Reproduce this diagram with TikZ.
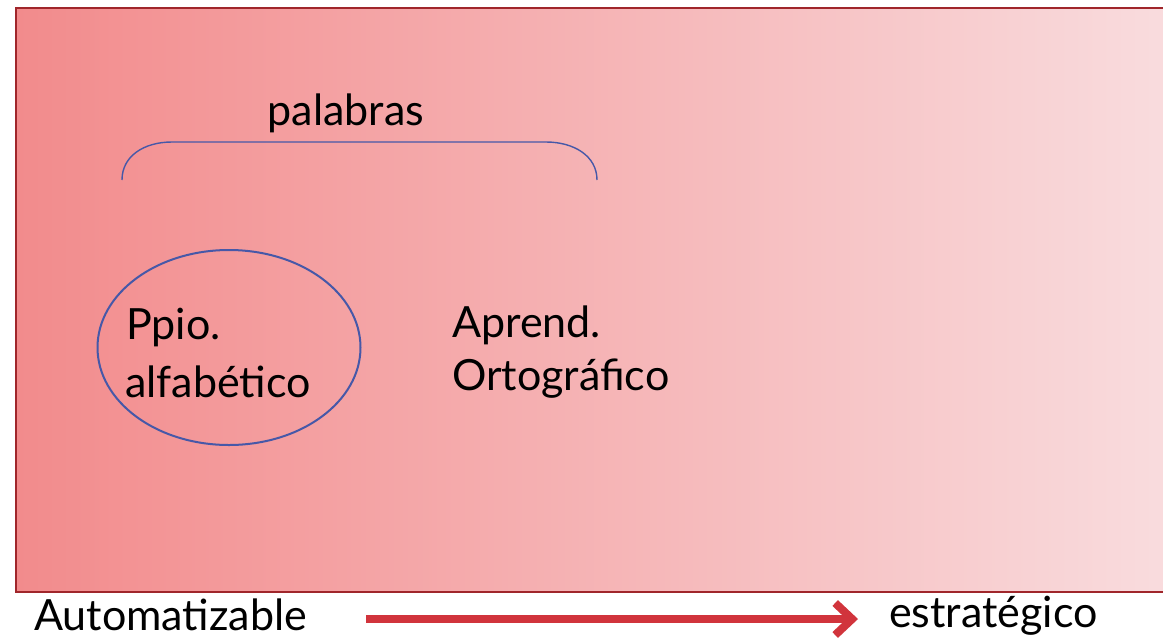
\documentclass[tikz,border=0pt]{standalone}
\usepackage{fontspec}
\setmainfont{Lato}
\usetikzlibrary{shapes.geometric,arrows.meta}
\definecolor{bgL}{RGB}{242,139,140}
\definecolor{bgR}{RGB}{249,220,222}
\definecolor{frameC}{RGB}{160,38,43}
\definecolor{blueC}{RGB}{70,88,168}
\definecolor{arrC}{RGB}{209,52,60}
\tikzset{
  lbl/.style={anchor=base west,inner sep=0pt,font=\fontsize{43}{50}\selectfont},
  bluel/.style={draw=blueC,line width=1.4pt},
}
\begin{document}
\begin{tikzpicture}[x=1pt,y=-1pt]
\useasboundingbox (0,0) rectangle (1163,638);
\fill[white] (0,0) rectangle (1163,638);
\begin{scope}
\clip (0,0) rectangle (1163,638);
\shade[left color=bgL,right color=bgR] (16,8) rectangle (1170,592);
\draw[frameC,line width=2.4pt] (16,8) rectangle (1170,592);
\end{scope}
% brace
\draw[bluel] (122,180) .. controls (122,156) and (144,142) .. (172,142) -- (546,142) .. controls (574,142) and (597,156) .. (597,180);
\node[lbl,anchor=base] (pal) at (346,125) {palabras};
% ellipse
\node[ellipse,draw=blueC,line width=2pt,minimum width=263pt,minimum height=195pt,inner sep=0pt] (ell) at (229,347.5) {};
\node[lbl] (ppio) at (126,339) {Ppio.};
\node[lbl] (alf) at (125,397) {alfabético};
\node[lbl] (apr) at (452,337) {Aprend.};
\node[lbl] (ort) at (452,390) {Ortográfico};
\node[lbl] (aut) at (34,630) {Automatizable};
\node[lbl] (est) at (889,627) {estratégico};
\coordinate (a1) at (366,619);
\coordinate (a2) at (858,619);
\draw[arrC,line width=8pt,-{Straight Barb[length=17pt,width=32pt]}] (a1) -- (a2);
\end{tikzpicture}
\end{document}
